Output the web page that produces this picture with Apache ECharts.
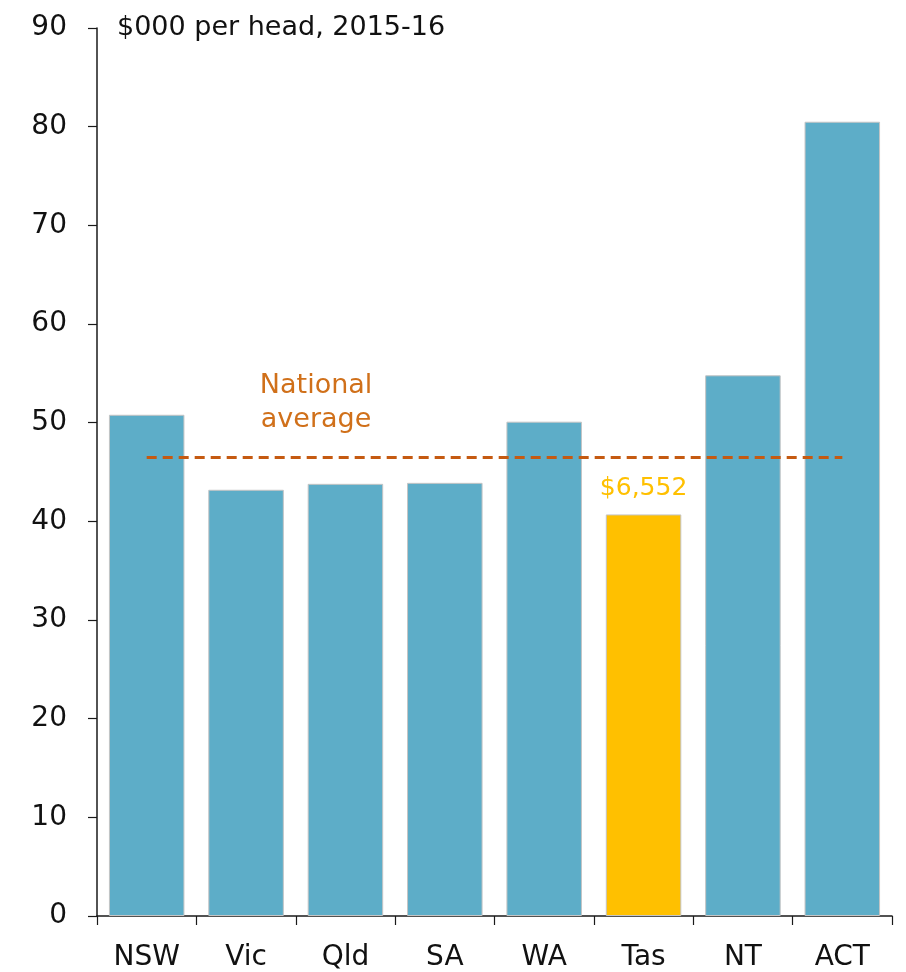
<!DOCTYPE html>
<html>
<head>
<meta charset="utf-8">
<script src="https://cdn.jsdelivr.net/npm/echarts@6/dist/echarts.min.js"></script>
<style>
  html, body { margin: 0; padding: 0; background: #fff; }
  #chart { width: 906px; height: 972px; }
</style>
</head>
<body>
<div id="chart"></div>
<script>
// Spending per head by state, $000, 2015-16
const states = ['NSW', 'Vic', 'Qld', 'SA', 'WA', 'Tas', 'NT', 'ACT'];
const perHead = [50.8, 43.2, 43.8, 43.9, 50.1, 40.7, 54.8, 80.5];
const nationalAverage = 46.5;
const highlightState = 'Tas';
const highlightLabel = '$6,552';
const yTicks = [0, 10, 20, 30, 40, 50, 60, 70, 80, 90];

const FONT = '"DejaVu Sans", "Noto Sans", sans-serif';
const BLUE = '#5DADC8';
const GOLD = '#FFC000';
const ORANGE = '#C55A11';
const AXIS = '#1a1a1a';

const chart = echarts.init(document.getElementById('chart'));

const barData = states.map((s, i) => {
  const item = { value: perHead[i] };
  if (s === highlightState) {
    item.itemStyle = { color: GOLD };
    item.label = {
      show: true,
      position: 'top',
      distance: 13,
      formatter: highlightLabel,
      color: GOLD,
      fontSize: 25,
      fontFamily: FONT
    };
  }
  return item;
});

chart.setOption({
  animation: false,
  backgroundColor: '#fff',
  grid: { left: 97, right: 14, top: 28, bottom: 55, containLabel: false },
  title: {
    text: '$000 per head, 2015-16',
    left: 112,
    top: 9,
    textStyle: { fontFamily: FONT, fontSize: 27, fontWeight: 'normal', color: '#111' }
  },
  xAxis: {
    type: 'category',
    data: states,
    axisLine: { show: true, lineStyle: { color: AXIS, width: 1.5 } },
    axisTick: { show: true, length: 9, alignWithLabel: false, lineStyle: { color: AXIS, width: 1.2 } },
    axisLabel: { fontFamily: FONT, fontSize: 28, color: '#111', margin: 28 }
  },
  yAxis: {
    type: 'value',
    min: yTicks[0],
    max: yTicks[yTicks.length - 1],
    interval: 10,
    axisLine: { show: true, lineStyle: { color: AXIS, width: 1.5 } },
    axisTick: { show: true, length: 9, lineStyle: { color: AXIS, width: 1.2 } },
    splitLine: { show: false },
    axisLabel: { fontFamily: FONT, fontSize: 28, color: '#111', margin: 30 }
  },
  series: [
    {
      type: 'bar',
      data: barData,
      barCategoryGap: '24%',
      itemStyle: { color: BLUE, borderColor: '#c4c4c4', borderWidth: 1 },
      markLine: {
        silent: true,
        symbol: 'none',
        label: { show: false },
        lineStyle: { color: ORANGE, type: [10, 6], width: 3 },
        data: [[
          { coord: [states[0], nationalAverage] },
          { coord: [states[states.length - 1], nationalAverage] }
        ]]
      },
      markPoint: {
        silent: true,
        symbol: 'rect',
        symbolSize: 0,
        data: [{
          coord: ['Vic', nationalAverage],
          label: {
            show: true,
            formatter: 'National\naverage',
            color: '#D0701A',
            fontFamily: FONT,
            fontSize: 27,
            lineHeight: 34,
            align: 'center',
            offset: [70, -54]
          }
        }]
      }
    }
  ]
});
</script>
</body>
</html>
